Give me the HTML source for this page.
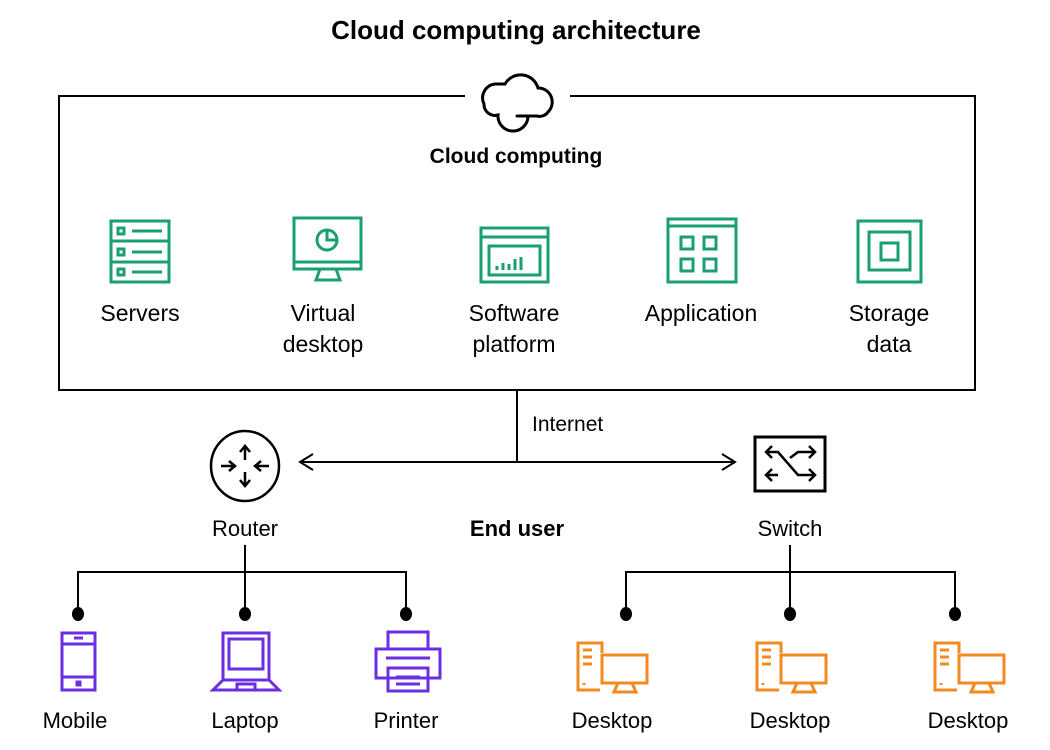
<!DOCTYPE html>
<html><head><meta charset="utf-8"><style>
html,body{margin:0;padding:0;background:#fff;}
svg{display:block;font-family:"Liberation Sans",sans-serif;}
</style></head><body>
<svg width="1050" height="750" viewBox="0 0 1050 750" xmlns="http://www.w3.org/2000/svg">
<text x="516" y="39" text-anchor="middle" font-size="26" font-weight="bold" fill="#000">Cloud computing architecture</text>
<path d="M465 96 H59 V390 H975 V96 H570" fill="none" stroke="#000" stroke-width="2"/>
<g fill="none" stroke="#000" stroke-width="3" stroke-linecap="round">
<path d="M505 84 A18 18 0 0 1 538 88 A14 14 0 0 1 548 112 A10 10 0 0 1 537 116 H517"/>
<path d="M505 84 H495 A14 14 0 0 0 484 104 A11 11 0 0 0 498 115 A14 14 0 0 0 528 117"/>
</g>
<text x="516" y="163" text-anchor="middle" font-size="21" font-weight="bold">Cloud computing</text>
<g fill="none" stroke="#1a9e74" stroke-width="3">
<rect x="111" y="221" width="58" height="61"/>
<line x1="111" y1="241" x2="169" y2="241"/><line x1="111" y1="262" x2="169" y2="262"/>
<rect x="118" y="228" width="6" height="6"/><rect x="118" y="249" width="6" height="6"/><rect x="118" y="269" width="6" height="6"/>
<line x1="132" y1="231" x2="162" y2="231"/><line x1="132" y1="252" x2="162" y2="252"/><line x1="132" y1="272" x2="162" y2="272"/>
<rect x="294" y="218" width="67" height="51"/><line x1="294" y1="262" x2="361" y2="262"/>
<path d="M320 269 L316 280 H340 L336 269"/>
<circle cx="327" cy="240" r="10"/><path d="M327 230 V240 H337"/>
<rect x="481" y="228" width="67" height="54"/><line x1="481" y1="237" x2="548" y2="237"/>
<rect x="489" y="246" width="51" height="29"/>
<path d="M497 270 V266 M503 270 V263 M509 270 V264 M515 270 V259 M521 270 V257"/>
<rect x="668" y="219" width="68" height="63"/><line x1="668" y1="226" x2="736" y2="226"/>
<rect x="681" y="237" width="12" height="12"/><rect x="704" y="237" width="12" height="12"/>
<rect x="681" y="259" width="12" height="12"/><rect x="704" y="259" width="12" height="12"/>
<rect x="858" y="221" width="63" height="61"/><rect x="869" y="232" width="41" height="38"/><rect x="881" y="243" width="17" height="17"/>
</g>
<g font-size="23" text-anchor="middle" fill="#000">
<text x="140" y="321">Servers</text>
<text x="323" y="321">Virtual</text><text x="323" y="352">desktop</text>
<text x="514" y="321">Software</text><text x="514" y="352">platform</text>
<text x="701" y="321">Application</text>
<text x="889" y="321">Storage</text><text x="889" y="352">data</text>
</g>
<g fill="none" stroke="#000" stroke-width="2">
<line x1="517" y1="390" x2="517" y2="462"/>
<line x1="300" y1="462" x2="735" y2="462"/>
<path d="M313 454 L300 462 L313 470"/><path d="M722 454 L735 462 L722 470"/>
</g>
<text x="532" y="431" font-size="21">Internet</text>
<g fill="none" stroke="#000" stroke-width="2.5">
<ellipse cx="245" cy="466" rx="34" ry="35"/>
<path d="M245 447 V460 M240 452 L245 446 L250 452"/>
<path d="M245 485 V472 M240 480 L245 486 L250 480"/>
<path d="M221 466 H234 M229 461 L235 466 L229 471"/>
<path d="M269 466 H256 M261 461 L255 466 L261 471"/>
<rect x="755" y="437" width="70" height="54" stroke-width="3"/>
<path d="M766 452 H778 L798 475 H815 M809 469 L815 475 L809 481"/>
<path d="M766 475 H778 M772 469 L766 475 L772 481 M790 458 L798 452 H815 M809 446 L815 452 L809 458 M772 446 L766 452 L772 458"/>
</g>
<g font-size="22" text-anchor="middle">
<text x="245" y="536">Router</text>
<text x="517" y="536" font-weight="bold">End user</text>
<text x="790" y="536">Switch</text>
</g>
<g fill="none" stroke="#000" stroke-width="2">
<path d="M245 545 V572 M78 613 V572 H406 V613 M245 572 V613"/>
<path d="M790 545 V572 M626 613 V572 H955 V613 M790 572 V613"/>
</g>
<g fill="#000">
<ellipse cx="78" cy="614" rx="6" ry="7"/><ellipse cx="245" cy="614" rx="6" ry="7"/><ellipse cx="406" cy="614" rx="6" ry="7"/>
<ellipse cx="626" cy="614" rx="6" ry="7"/><ellipse cx="790" cy="614" rx="6" ry="7"/><ellipse cx="955" cy="614" rx="6" ry="7"/>
</g>
<g fill="none" stroke="#6b2ee0" stroke-width="3">
<rect x="62" y="633" width="33" height="57"/><line x1="62" y1="644" x2="95" y2="644"/><line x1="62" y1="677" x2="95" y2="677"/>
<line x1="74" y1="638" x2="83" y2="638"/><rect x="77" y="682" width="3" height="3"/>
<rect x="223" y="633" width="46" height="47"/><rect x="229" y="639" width="34" height="30"/>
<path d="M223 680 L213 690 H279 L269 680 M237 690 V684 H255 V690"/>
<rect x="388" y="632" width="40" height="17"/><rect x="376" y="649" width="64" height="29"/>
<line x1="386" y1="658" x2="430" y2="658"/>
<rect x="388" y="668" width="40" height="23"/><line x1="396" y1="677" x2="420" y2="677"/><line x1="396" y1="684" x2="420" y2="684"/>
</g>
<g fill="none" stroke="#f28a1f" stroke-width="3">
<g id="d1">
<path d="M600 690 H578 V643 H602 V653"/>
<line x1="583" y1="650" x2="592" y2="650"/><line x1="583" y1="657" x2="592" y2="657"/><line x1="583" y1="664" x2="592" y2="664"/>
<line x1="584" y1="683" x2="584" y2="685"/>
<rect x="602" y="655" width="45" height="28"/>
<path d="M618 683 L614 692 H636 L632 683"/>
</g>
<use href="#d1" transform="translate(179,0)"/>
<use href="#d1" transform="translate(357,0)"/>
</g>
<g font-size="22" text-anchor="middle">
<text x="75" y="728">Mobile</text><text x="245" y="728">Laptop</text><text x="406" y="728">Printer</text>
<text x="612" y="728">Desktop</text><text x="790" y="728">Desktop</text><text x="968" y="728">Desktop</text>
</g>
</svg>
</body></html>
